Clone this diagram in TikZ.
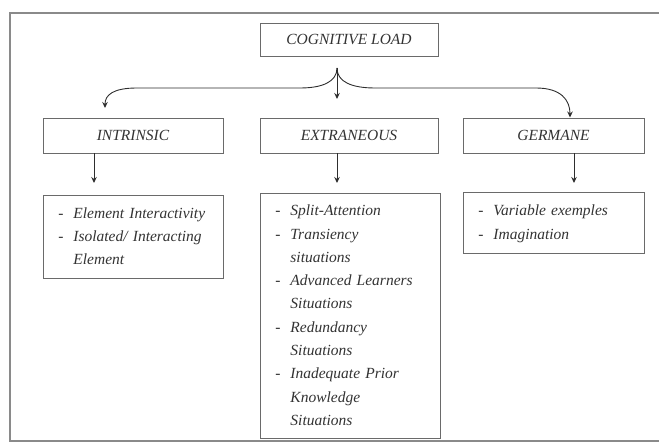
\documentclass[tikz,border=0pt]{standalone}
\usepackage{fontspec}
\setmainfont{Liberation Serif}
\usetikzlibrary{arrows.meta}

\definecolor{boxgray}{HTML}{6A6A6A}
\definecolor{linegray}{HTML}{2E2E2E}
\definecolor{txtgray}{HTML}{333333}
\definecolor{framegray}{HTML}{8A8A8A}

\newcommand{\boxfont}{\fontsize{15.5}{23.3}\selectfont\itshape}

\tikzset{
  headbox/.style={draw=boxgray, line width=0.9, minimum height=35, inner sep=0,
    font=\boxfont, text=txtgray},
  listbox/.style={draw=boxgray, line width=0.9, anchor=north west, inner xsep=15,
    inner ysep=0, align=left, font=\boxfont, text=txtgray},
  link/.style={draw=linegray, line width=0.9, -{Stealth[length=6,width=5.5]}}
}

\begin{document}
\begin{tikzpicture}[x=1pt,y=1pt,yscale=-1,xscale=1]

\useasboundingbox (0,0) rectangle (659,443);
\clip (0,0) rectangle (659,443);

% Outer frame
\draw [framegray, line width=1.2] (10,13) rectangle (672,441);

% Top box
\node [headbox, minimum width=178, minimum height=33] (load) at (349,39.5) {COGNITIVE LOAD};

% Second level
\node [headbox, minimum width=180] (intr) at (133,135.5) {INTRINSIC};
\node [headbox, minimum width=178] (extr) at (349,135.5) {EXTRANEOUS};
\node [headbox, minimum width=181] (germ) at (553.5,135.5) {GERMANE};

% Lists
\node [listbox, text width=150, minimum height=83] (intrlist) at (43,195) {%
  \begin{tabular}{@{}p{15pt}@{}l@{}}
  - & Element Interactivity\\
  - & Isolated/ Interacting\\
    & Element
  \end{tabular}};
\node [listbox, text width=150, minimum height=245] (extrlist) at (260,193) {%
  \begin{tabular}{@{}p{15pt}@{}l@{}}
  - & Split-Attention\\
  - & Transiency\\
    & situations\\
  - & Advanced Learners\\
    & Situations\\
  - & Redundancy\\
    & Situations\\
  - & Inadequate Prior\\
    & Knowledge\\
    & Situations
  \end{tabular}};
\node [listbox, text width=151, minimum height=61] (germlist) at (463,192) {%
  \begin{tabular}{@{}p{15pt}@{}l@{}}
  - & Variable exemples\\
  - & Imagination
  \end{tabular}};

% Fork under the top box
\coordinate (fork) at (337,68);
\coordinate (intrtip) at (105,108);
\coordinate (extrtip) at (337,99);
\coordinate (germtip) at (570,117.5);
\draw [link] (fork) .. controls (337,82) and (322,88) .. (300,88) -- (137,88)
  .. controls (113,88) and (105,95) .. (intrtip);
\draw [link] (fork) -- (extrtip);
\draw [link] (fork) .. controls (337,82) and (352,88) .. (375,88) -- (536,88)
  .. controls (561,88) and (570,100) .. (germtip);

% Arrows down to the lists
\coordinate (intrdown) at (94,183);
\coordinate (extrdown) at (337,183);
\coordinate (germdown) at (574,183);
\draw [link] (intr.south -| intrdown) -- (intrdown);
\draw [link] (extr.south -| extrdown) -- (extrdown);
\draw [link] (germ.south -| germdown) -- (germdown);

\end{tikzpicture}
\end{document}
